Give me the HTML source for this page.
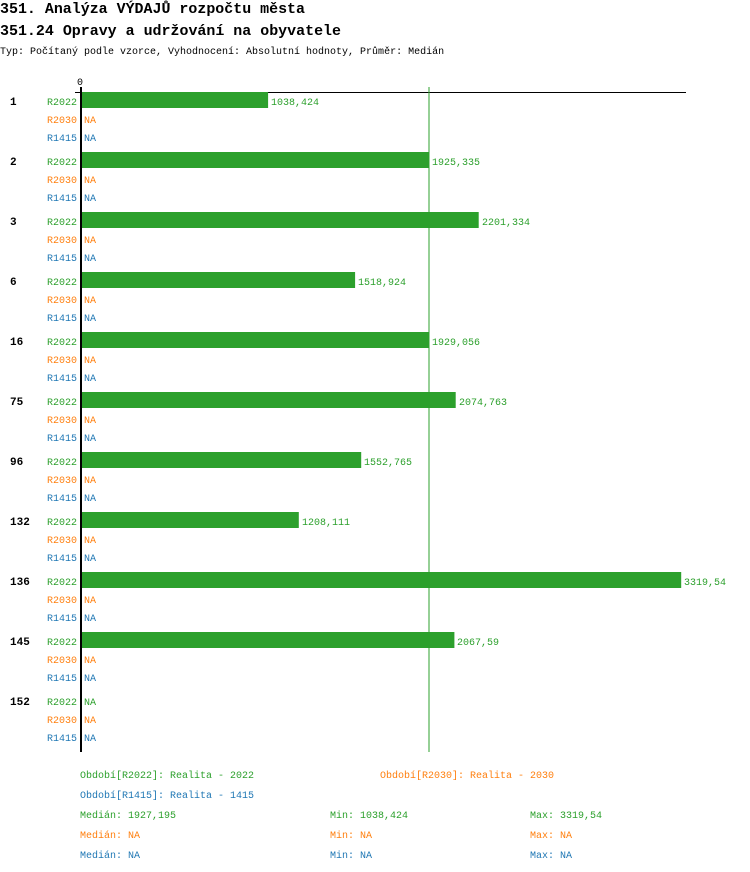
<!DOCTYPE html>
<html><head><meta charset="utf-8"><style>
body{margin:0;background:#fff;}
svg{display:block;font-family:"Liberation Mono","DejaVu Sans Mono",monospace;}
</style></head><body>
<svg width="750" height="872" xmlns="http://www.w3.org/2000/svg">
<text x="0" y="13" font-size="15" font-weight="bold" textLength="305" lengthAdjust="spacingAndGlyphs">351. Analýza VÝDAJŮ rozpočtu města</text>
<text x="0" y="35" font-size="15" font-weight="bold" textLength="341" lengthAdjust="spacingAndGlyphs">351.24 Opravy a udržování na obyvatele</text>
<text x="0" y="54" font-size="10">Typ: Počítaný podle vzorce, Vyhodnocení: Absolutní hodnoty, Průměr: Medián</text>
<text x="77" y="85" font-size="10">0</text>
<line x1="75" y1="92.5" x2="686" y2="92.5" stroke="#000" stroke-width="1"/>
<line x1="429" y1="87" x2="429" y2="752" stroke="#2ca02c" stroke-width="1"/>
<g font-size="10">
<g font-weight="bold" font-size="11">
<text x="10" y="105">1</text><text x="10" y="165">2</text><text x="10" y="225">3</text><text x="10" y="285">6</text><text x="10" y="345">16</text><text x="10" y="405">75</text><text x="10" y="465">96</text><text x="10" y="525">132</text><text x="10" y="585">136</text><text x="10" y="645">145</text><text x="10" y="705">152</text>
</g>
<g fill="#2ca02c">
<text x="47" y="105">R2022</text><text x="47" y="165">R2022</text><text x="47" y="225">R2022</text><text x="47" y="285">R2022</text><text x="47" y="345">R2022</text><text x="47" y="405">R2022</text><text x="47" y="465">R2022</text><text x="47" y="525">R2022</text><text x="47" y="585">R2022</text><text x="47" y="645">R2022</text><text x="47" y="705">R2022</text>
<rect x="80" y="92" width="188.1" height="16"/><text x="271" y="105">1038,424</text>
<rect x="80" y="152" width="348.7" height="16"/><text x="432" y="165">1925,335</text>
<rect x="80" y="212" width="398.7" height="16"/><text x="482" y="225">2201,334</text>
<rect x="80" y="272" width="275.1" height="16"/><text x="358" y="285">1518,924</text>
<rect x="80" y="332" width="349.4" height="16"/><text x="432" y="345">1929,056</text>
<rect x="80" y="392" width="375.7" height="16"/><text x="459" y="405">2074,763</text>
<rect x="80" y="452" width="281.2" height="16"/><text x="364" y="465">1552,765</text>
<rect x="80" y="512" width="218.8" height="16"/><text x="302" y="525">1208,111</text>
<rect x="80" y="572" width="601.2" height="16"/><text x="684" y="585">3319,54</text>
<rect x="80" y="632" width="374.4" height="16"/><text x="457" y="645">2067,59</text>
<text x="84" y="705">NA</text>
</g>
<g fill="#ff7f0e">
<text x="47" y="123">R2030</text><text x="47" y="183">R2030</text><text x="47" y="243">R2030</text><text x="47" y="303">R2030</text><text x="47" y="363">R2030</text><text x="47" y="423">R2030</text><text x="47" y="483">R2030</text><text x="47" y="543">R2030</text><text x="47" y="603">R2030</text><text x="47" y="663">R2030</text><text x="47" y="723">R2030</text>
<text x="84" y="123">NA</text><text x="84" y="183">NA</text><text x="84" y="243">NA</text><text x="84" y="303">NA</text><text x="84" y="363">NA</text><text x="84" y="423">NA</text><text x="84" y="483">NA</text><text x="84" y="543">NA</text><text x="84" y="603">NA</text><text x="84" y="663">NA</text><text x="84" y="723">NA</text>
</g>
<g fill="#1f77b4">
<text x="47" y="141">R1415</text><text x="47" y="201">R1415</text><text x="47" y="261">R1415</text><text x="47" y="321">R1415</text><text x="47" y="381">R1415</text><text x="47" y="441">R1415</text><text x="47" y="501">R1415</text><text x="47" y="561">R1415</text><text x="47" y="621">R1415</text><text x="47" y="681">R1415</text><text x="47" y="741">R1415</text>
<text x="84" y="141">NA</text><text x="84" y="201">NA</text><text x="84" y="261">NA</text><text x="84" y="321">NA</text><text x="84" y="381">NA</text><text x="84" y="441">NA</text><text x="84" y="501">NA</text><text x="84" y="561">NA</text><text x="84" y="621">NA</text><text x="84" y="681">NA</text><text x="84" y="741">NA</text>
</g>
</g>
<line x1="81" y1="87" x2="81" y2="752" stroke="#000" stroke-width="2"/>
<g font-size="10">
<text x="80" y="778" fill="#2ca02c">Období[R2022]: Realita - 2022</text>
<text x="380" y="778" fill="#ff7f0e">Období[R2030]: Realita - 2030</text>
<text x="80" y="798" fill="#1f77b4">Období[R1415]: Realita - 1415</text>
<text x="80" y="818" fill="#2ca02c">Medián: 1927,195</text>
<text x="330" y="818" fill="#2ca02c">Min: 1038,424</text>
<text x="530" y="818" fill="#2ca02c">Max: 3319,54</text>
<text x="80" y="838" fill="#ff7f0e">Medián: NA</text>
<text x="330" y="838" fill="#ff7f0e">Min: NA</text>
<text x="530" y="838" fill="#ff7f0e">Max: NA</text>
<text x="80" y="858" fill="#1f77b4">Medián: NA</text>
<text x="330" y="858" fill="#1f77b4">Min: NA</text>
<text x="530" y="858" fill="#1f77b4">Max: NA</text>
</g>
</svg>
</body></html>
